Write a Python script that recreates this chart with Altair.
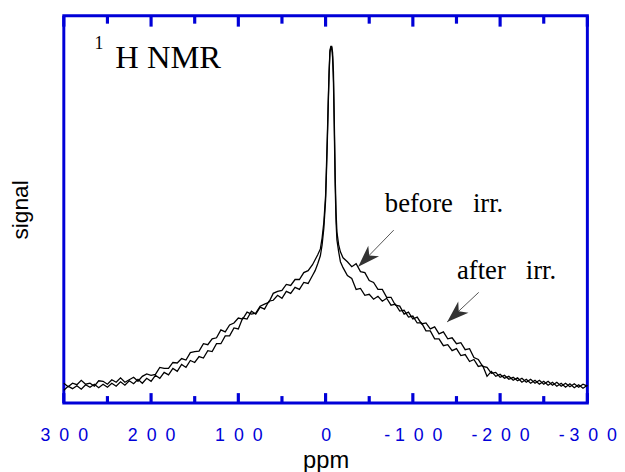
import altair as alt
import pandas as pd

# ---------------- data ----------------
ppm_left = [300, 295, 290, 285, 280, 275, 270, 265, 260, 255, 250, 245, 240, 235, 230,
            225, 220, 215, 210, 205, 200, 195, 190, 185, 180, 175, 170, 165, 160, 155,
            150, 145, 140, 135, 130, 125, 120, 115, 110, 105, 100, 95, 90, 85, 80,
            75, 70, 65, 60, 55, 50, 45, 40, 35, 30, 25, 20]
ppm_peak = [15, 12, 9, 6, 4, 2, 0, -1, -2, -3, -4, -5, -6, -7, -8, -9, -10, -11, -12,
            -13, -15, -17, -20]
ppm_right = [-25, -30, -35, -40, -45, -50, -55, -60, -65, -70, -75, -80, -85, -90, -95,
             -100, -105, -110, -115, -120, -125, -130, -135, -140, -145, -150, -155,
             -160, -165, -170, -175, -180, -185, -190, -195, -200, -205, -210, -215,
             -220, -225, -230, -235, -240, -245, -250, -255, -260, -265, -270, -275,
             -280, -285, -290, -295, -300]

before_left = [20, 16.5, 20, 18.5, 23, 19, 20, 17, 22.5, 22, 19, 23.5, 21, 25.5, 21,
               23.5, 26, 22, 27, 29.5, 28, 29, 36, 35, 35, 41, 40.5, 45, 43.5, 51,
               52, 52.5, 60, 59, 65, 66, 74, 72, 79, 81, 86, 85, 92, 90, 91,
               98, 100, 102, 111, 113, 114, 120, 119, 125, 125, 132, 134]
before_peak = [140, 145, 150, 156, 167, 183, 210, 240, 270, 305, 335, 357, 361, 361,
               355, 335, 285, 230, 193, 173, 160, 153, 147]
before_right = [143, 138, 141, 133, 132, 124, 122, 115, 115, 107, 107, 99, 98, 90, 92,
                85, 87, 80, 81, 75, 77, 70, 72, 65, 66, 60, 61,
                54, 55, 46, 44, 37, 36, 30, 31, 26, 28, 24, 26,
                22.5, 25, 21, 24, 20, 23, 19, 22, 18, 21, 17, 20,
                16.5, 19.5, 16, 19, 17]

after_left = [13, 17, 14.5, 17.5, 14, 18.5, 16, 19, 15.5, 19, 16, 20, 17, 21.5, 18,
              22.5, 19.5, 24, 20, 25, 22, 28, 25, 31, 28.5, 35, 32, 39, 36, 43,
              41, 47, 45.5, 53, 52, 60, 60, 68, 68, 76, 75, 86, 85, 93, 90,
              97, 95, 103, 104, 109, 106, 113, 111, 117, 115, 122, 121]
after_peak = [129, 134, 141, 149, 160, 177, 205, 233, 265, 300, 333, 355, 360, 360,
              350, 325, 275, 220, 183, 165, 153, 143, 137]
after_right = [129, 126, 115, 116, 109, 110, 105, 108, 103, 106, 99, 100, 93, 94, 87,
               88, 81, 81, 73, 73, 65, 65, 58, 59, 53, 55, 48,
               49, 42, 44, 37, 38, 27, 32, 27, 29, 25, 27, 23,
               25.5, 21, 24, 20, 23, 19, 22, 18, 21, 17, 20, 16,
               19.5, 15.5, 18.5, 15, 18]

series_names = ["before irr.", "after irr."]

major_ticks = [300, 200, 100, 0, -100, -200, -300]
minor_ticks = [250, 150, 50, -50, -150, -250]
tick_labels = ["3\u20020\u20020", "2\u20020\u20020", "1\u20020\u20020", "0",
               "-\u00a01\u20020\u20020", "-\u00a02\u20020\u20020", "-\u00a03\u20020\u20020"]

# annotations (data units)
note_text = ["before\u00a0\u00a0\u00a0irr.", "after\u00a0\u00a0\u00a0irr."]
note_ppm = [-67.9, -150.6]
note_sig = [193, 126]
arrow_tail_ppm = [-78.1, -175.5]
arrow_tail_sig = [175, 112]
arrow_tip_ppm = [-37.4, -139.3]
arrow_tip_sig = [138, 82]
arrow_angle = [224.5, 227.4]

BLUE = "#0000d8"
Y_MIN, Y_MAX = 0, 392
WIDTH, HEIGHT = 530, 392

# tick styling (converted to data units: 1 signal unit = 1 px, 600 ppm = WIDTH px)
TICK_HALF_W = 1.6 * 600 / WIDTH
MAJOR_LEN_BOTTOM, MINOR_LEN_BOTTOM = 10, 7
MAJOR_LEN_TOP, MINOR_LEN_TOP = 11, 8

# ---------------- tables ----------------
ppm_all = ppm_left + ppm_peak + ppm_right
rows = []
for name, vals in [(series_names[0], before_left + before_peak + before_right),
                   (series_names[1], after_left + after_peak + after_right)]:
    for p, v in zip(ppm_all, vals):
        rows.append({"ppm": p, "signal": v, "series": name})
spec_df = pd.DataFrame(rows)

tick_rows = []
for ticklist, lb, lt in [(major_ticks, MAJOR_LEN_BOTTOM, MAJOR_LEN_TOP),
                         (minor_ticks, MINOR_LEN_BOTTOM, MINOR_LEN_TOP)]:
    for p in ticklist:
        tick_rows.append({"ppm": p - TICK_HALF_W, "ppm_b": p + TICK_HALF_W,
                          "signal": Y_MIN, "signal_b": Y_MIN + lb})
        tick_rows.append({"ppm": p - TICK_HALF_W, "ppm_b": p + TICK_HALF_W,
                          "signal": Y_MAX - lt, "signal_b": Y_MAX})
ticks_df = pd.DataFrame(tick_rows)

label_expr = ""
for v, lab in zip(major_ticks, tick_labels):
    label_expr += f"datum.value == {v} ? '{lab}' : "
label_expr += "''"

xscale = alt.Scale(domain=[-300, 300], reverse=True, nice=False, zero=False)
yscale = alt.Scale(domain=[Y_MIN, Y_MAX], nice=False, zero=False)

xaxis = alt.Axis(values=major_ticks, labelExpr=label_expr, ticks=False, domain=False,
                 grid=False, labelFont="Liberation Sans", labelFontSize=18,
                 labelColor=BLUE, labelPadding=24, labelOverlap=False, labelFlush=False,
                 title="ppm", titleFont="Liberation Sans", titleFontSize=24,
                 titleFontWeight="normal", titleColor="black", titlePadding=4)
yaxis = alt.Axis(labels=False, ticks=False, domain=False, grid=False,
                 title="signal", titleFont="Liberation Sans", titleFontSize=23,
                 titleFontWeight="normal", titleColor="black", titlePadding=32)

lines = alt.Chart(spec_df).mark_line(color="black", strokeWidth=1.3).encode(
    x=alt.X("ppm:Q", scale=xscale, axis=xaxis, title="ppm"),
    y=alt.Y("signal:Q", scale=yscale, axis=yaxis, title="signal"),
    detail="series:N",
)

# frame ticks drawn as thin filled rectangles
ticks = alt.Chart(ticks_df).mark_rect(color=BLUE, opacity=1, stroke=None).encode(
    x=alt.X("ppm:Q", title="ppm"), x2="ppm_b:Q",
    y=alt.Y("signal:Q", title="signal"), y2="signal_b:Q",
)

title_df = pd.DataFrame({"ppm": [264.9, 241.1], "signal": [358, 339],
                         "text": ["1", "H NMR"], "size": [18, 33]})
title_marks = alt.Chart(title_df).mark_text(font="Liberation Serif", align="left",
                                            baseline="alphabetic", color="black").encode(
    x=alt.X("ppm:Q", title="ppm"), y=alt.Y("signal:Q", title="signal"), text="text:N",
    size=alt.Size("size:Q", scale=None, legend=None))

notes_df = pd.DataFrame({"ppm": note_ppm, "signal": note_sig, "text": note_text})
notes = alt.Chart(notes_df).mark_text(font="Liberation Serif", fontSize=27, align="left",
                                      baseline="alphabetic", color="black").encode(
    x=alt.X("ppm:Q", title="ppm"), y=alt.Y("signal:Q", title="signal"), text="text:N")

arrows_df = pd.DataFrame({"ppm": arrow_tail_ppm, "signal": arrow_tail_sig,
                          "ppm_end": arrow_tip_ppm, "signal_end": arrow_tip_sig,
                          "angle": arrow_angle})
arrow_lines = alt.Chart(arrows_df).mark_rule(color="#555555", strokeWidth=1).encode(
    x=alt.X("ppm:Q", title="ppm"), y=alt.Y("signal:Q", title="signal"),
    x2="ppm_end:Q", y2="signal_end:Q")
head_path = "M0,0 L0.6,1.75 L0,1.25 L-0.6,1.75 Z"
arrow_heads = alt.Chart(arrows_df).mark_point(shape=head_path, filled=True, size=650,
                                              color="#333333", opacity=1).encode(
    x=alt.X("ppm_end:Q", title="ppm"), y=alt.Y("signal_end:Q", title="signal"),
    angle=alt.Angle("angle:Q", scale=None))

chart = alt.layer(lines, ticks, title_marks, notes, arrow_lines, arrow_heads).properties(
    width=WIDTH, height=HEIGHT,
    autosize=alt.AutoSizeParams(type="none"),
    padding={"left": 56.5, "top": 5, "right": 30, "bottom": 67},
).configure_view(stroke=BLUE, strokeWidth=3)

chart.save("out.html", embed_options={"renderer": "svg", "actions": False})
